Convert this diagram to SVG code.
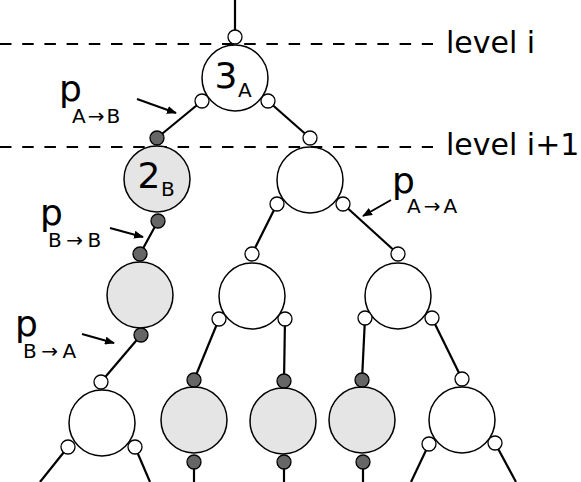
<svg xmlns="http://www.w3.org/2000/svg" width="581" height="482" viewBox="0 0 581 482">
<defs>
<style>
.n{fill:#fff;stroke:#000;stroke-width:1.5}
.g{fill:#e5e5e5;stroke:#000;stroke-width:1.5}
.pw{fill:#fff;stroke:#000;stroke-width:1.3}
.pd{fill:#666;stroke:#000;stroke-width:1.3}
.c line{stroke:#000;stroke-width:2.2}
.dash{stroke:#000;stroke-width:2;stroke-dasharray:11.5 10.7}
.ptr{stroke:#000;stroke-width:2;marker-end:url(#ah)}
text{font-family:"DejaVu Sans",sans-serif;fill:#000;font-size:36px}
.sub{font-size:20px}
.lvl{font-size:30px}
</style>
<marker id="ah" viewBox="0 0 10 8" refX="9" refY="4" markerWidth="5" markerHeight="4" orient="auto" markerUnits="strokeWidth">
<path d="M0,0 L10,4 L0,8 z" fill="#000"/>
</marker>
</defs>
<g id="levels">
<line class="dash" x1="0" y1="44" x2="433" y2="44"/>
<line class="dash" x1="0" y1="147" x2="433" y2="147"/>
<text class="lvl" x="446" y="53">level i</text>
<text class="lvl" x="446" y="155">level i+1</text>
</g>
<g id="connectors" class="c">
<line x1="235" y1="0" x2="235" y2="37"/>
<line x1="202" y1="101" x2="157" y2="138"/>
<line x1="268" y1="101" x2="310" y2="138"/>
<line x1="158" y1="221" x2="140" y2="254"/>
<line x1="277" y1="204" x2="252" y2="254"/>
<line x1="343" y1="204" x2="398" y2="254"/>
<line x1="141" y1="335" x2="101" y2="382"/>
<line x1="219" y1="319" x2="194" y2="380"/>
<line x1="285" y1="319" x2="284" y2="381"/>
<line x1="365" y1="318" x2="362" y2="380"/>
<line x1="432" y1="318" x2="462" y2="379"/>
<line x1="68" y1="447" x2="40" y2="482"/>
<line x1="135" y1="447" x2="150" y2="482"/>
<line x1="194" y1="462" x2="194" y2="482"/>
<line x1="284" y1="462" x2="284" y2="482"/>
<line x1="363" y1="462" x2="363" y2="482"/>
<line x1="429" y1="444" x2="411" y2="482"/>
<line x1="495" y1="443" x2="516" y2="482"/>
</g>
<g id="pointers">
<line class="ptr" x1="137" y1="99" x2="176" y2="113"/>
<line class="ptr" x1="110" y1="228" x2="143" y2="237"/>
<line class="ptr" x1="82" y1="334" x2="114" y2="343"/>
<line class="ptr" x1="391" y1="200" x2="363" y2="216"/>
</g>
<g id="labels">
<text id="pAB" x="59" y="100.5">p<tspan class="sub" x="72" y="123" letter-spacing="2">A→B</tspan></text>
<text id="pBB" x="40" y="224.5">p<tspan class="sub" x="48" y="247" letter-spacing="4.5">B→B</tspan></text>
<text id="pBA" x="15" y="335.5">p<tspan class="sub" x="23" y="358" letter-spacing="4.5">B→A</tspan></text>
<text id="pAA" x="392" y="192.5">p<tspan class="sub" x="407" y="213" letter-spacing="3">A→A</tspan></text>
</g>
<g id="n0">
<circle class="n" cx="235" cy="78" r="33"/>
<circle class="pw" cx="235" cy="37" r="7"/>
<circle class="pw" cx="202" cy="101" r="7"/>
<circle class="pw" cx="268" cy="101" r="7"/>
<text x="214.5" y="88">3<tspan class="sub" x="238" y="97">A</tspan></text>
</g>
<g id="n1">
<circle class="g" cx="157" cy="179" r="33"/>
<circle class="pd" cx="157" cy="138" r="7"/>
<circle class="pd" cx="158" cy="221" r="7"/>
<text x="137.5" y="188">2<tspan class="sub" x="161" y="196">B</tspan></text>
</g>
<g id="n2">
<circle class="n" cx="310" cy="180" r="33"/>
<circle class="pw" cx="310" cy="138" r="7"/>
<circle class="pw" cx="277" cy="204" r="7"/>
<circle class="pw" cx="343" cy="204" r="7"/>
</g>
<g id="n3">
<circle class="g" cx="140" cy="295" r="33"/>
<circle class="pd" cx="140" cy="254" r="7"/>
<circle class="pd" cx="141" cy="335" r="7"/>
</g>
<g id="n4">
<circle class="n" cx="252" cy="296" r="33"/>
<circle class="pw" cx="252" cy="254" r="7"/>
<circle class="pw" cx="219" cy="319" r="7"/>
<circle class="pw" cx="285" cy="319" r="7"/>
</g>
<g id="n5">
<circle class="n" cx="398" cy="296" r="33"/>
<circle class="pw" cx="398" cy="254" r="7"/>
<circle class="pw" cx="365" cy="318" r="7"/>
<circle class="pw" cx="432" cy="318" r="7"/>
</g>
<g id="n6">
<circle class="n" cx="102" cy="423" r="33"/>
<circle class="pw" cx="101" cy="382" r="7"/>
<circle class="pw" cx="68" cy="447" r="7"/>
<circle class="pw" cx="135" cy="447" r="7"/>
</g>
<g id="n7">
<circle class="g" cx="194" cy="420" r="33"/>
<circle class="pd" cx="194" cy="380" r="7"/>
<circle class="pd" cx="194" cy="462" r="7"/>
</g>
<g id="n8">
<circle class="g" cx="283" cy="421" r="33"/>
<circle class="pd" cx="284" cy="381" r="7"/>
<circle class="pd" cx="284" cy="462" r="7"/>
</g>
<g id="n9">
<circle class="g" cx="362" cy="420" r="33"/>
<circle class="pd" cx="362" cy="380" r="7"/>
<circle class="pd" cx="363" cy="462" r="7"/>
</g>
<g id="n10">
<circle class="n" cx="462" cy="420" r="33"/>
<circle class="pw" cx="462" cy="379" r="7"/>
<circle class="pw" cx="429" cy="444" r="7"/>
<circle class="pw" cx="495" cy="443" r="7"/>
</g>
</svg>
